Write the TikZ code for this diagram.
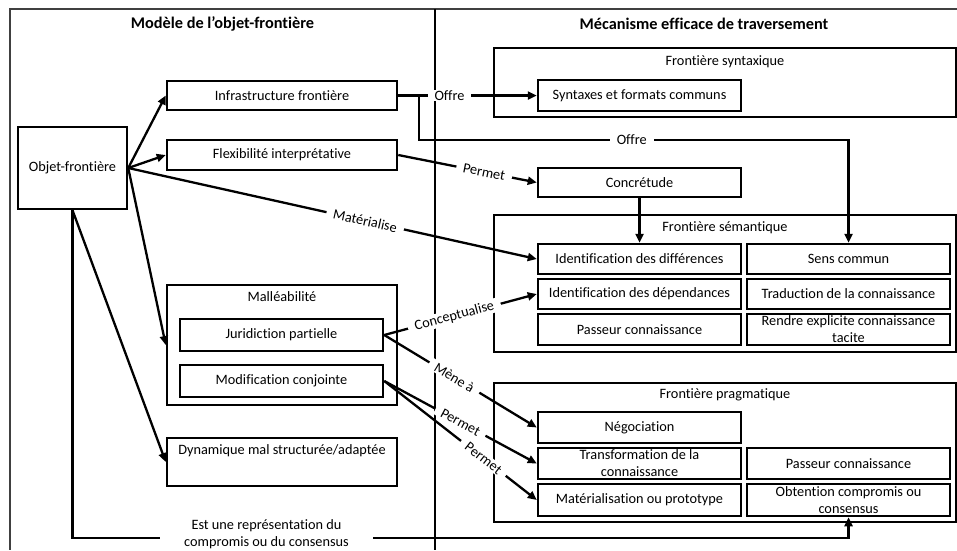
\documentclass[tikz,border=0pt]{standalone}
\usepackage{fontspec}
\setmainfont{Carlito}[Ligatures=NoCommon]
\usetikzlibrary{arrows.meta,calc}
\newcommand\myfnt{\fontsize{14.3}{17}\selectfont}
\newcommand\myttl{\fontsize{16.3}{18}\selectfont\bfseries}
\begin{document}
\begin{tikzpicture}[x=1pt,y=-1pt,
  every node/.style={font=\myfnt},
  box/.style={draw, line width=2.5pt, inner sep=0pt, align=center},
  wbox/.style={box, minimum width=203pt, minimum height=31pt},
  frm/.style={draw, line width=2.5pt, inner sep=0pt},
  arr/.style={line width=2.3pt, -{Triangle[length=9pt,width=8pt]}},
  lbl/.style={fill=white, inner xsep=7pt, inner ysep=1pt},
  slbl/.style={lbl, sloped},
]
\useasboundingbox (0,0) rectangle (957,550);
% outer frame and divider
\draw[black!75, line width=1.3pt] (957,9) -- (10,9) -- (10,550);
\draw[line width=2.5pt] (435,9) -- (435,550);
% titles
\node[font=\myttl] (t1) at (222.5,24) {Modèle de l’objet-frontière};
\node[font=\myttl] (t2) at (704,24) {Mécanisme efficace de traversement};
% left side
\node[box, minimum width=109pt, minimum height=82pt] (obj) at (72.5,168) {Objet-frontière};
\node[box, minimum width=230pt, minimum height=29pt] (inf) at (282,95.5) {Infrastructure frontière};
\node[box, minimum width=230pt, minimum height=30pt] (flex) at (282,155) {Flexibilité interprétative};
\node[box, minimum width=230pt, minimum height=120pt] (mall) at (282,345) {};
\node (malt) at (282,297) {Malléabilité};
\node[box, minimum width=203pt, minimum height=32pt] (jur) at (281.5,335) {Juridiction partielle};
\node[box, minimum width=203pt, minimum height=32pt] (mod) at (281.5,381) {Modification conjointe};
\node[box, minimum width=230pt, minimum height=48pt] (dyn) at (282,462) {};
\node (dynt) at (282,451) {Dynamique mal structurée/adaptée};
% right side frames
\node[frm, minimum width=462pt, minimum height=69pt] (fsyn) at (725,82.5) {};
\node (fsynt) at (725,62) {Frontière syntaxique};
\node[frm, minimum width=462pt, minimum height=137pt] (fsem) at (725,283.5) {};
\node (fsemt) at (725,228) {Frontière sémantique};
\node[frm, minimum width=462pt, minimum height=139pt] (fprag) at (725,452.5) {};
\node (fpragt) at (725,395) {Frontière pragmatique};
% right side boxes
\node[wbox] (synf) at (639.5,95.5) {Syntaxes et formats communs};
\node[wbox, minimum height=29pt] (conc) at (639.5,182.5) {Concrétude};
\node[wbox, minimum height=30pt] (idd) at (639.5,259) {Identification des différences};
\node[wbox, minimum height=30pt] (sens) at (848.5,259) {Sens commun};
\node[wbox, minimum height=30pt] (idp) at (639.5,294) {Identification des dépendances};
\node[wbox, minimum height=30pt] (trad) at (848.5,294) {Traduction de la connaissance};
\node[wbox] (pas1) at (639.5,329.5) {Passeur connaissance};
\node[wbox, label={[align=center]center:Rendre explicite connaissance\\tacite}] (rend) at (848.5,329.5) {};
\node[wbox] (neg) at (639.5,427.5) {Négociation};
\node[wbox, label={[align=center]center:Transformation de la\\connaissance}] (trans) at (639.5,463.5) {};
\node[wbox] (pas2) at (848.5,463.5) {Passeur connaissance};
\node[wbox, minimum height=32pt] (mat) at (639.5,500) {Matérialisation ou prototype};
\node[wbox, minimum height=32pt, label={[align=center]center:Obtention compromis ou\\consensus}] (obt) at (848.5,500) {};
% connectors
\coordinate (bl) at (0,538);
\coordinate (oy) at (0,140);
\coordinate (br) at ($(inf.east)+(21,0)$);
\draw[arr] (obj.east) -- (inf.west);
\draw[arr] (obj.east) -- (flex.west);
\draw[arr] (obj.east) -- node[slbl,pos=0.58]{Matérialise} (idd.west);
\draw[arr] (obj.east) -- (mall.west);
\draw[arr] (obj.south) -- (dyn.west);
\draw[arr] (obj.south) -- (obj.south |- bl) -- node[lbl, pos=0.25, yshift=3.5pt, align=center, inner xsep=24pt]{Est une représentation du\\compromis ou du consensus} (bl -| obt.south) -- (obt.south);
\draw[arr] (inf.east) -- node[lbl,pos=0.37]{Offre} (synf.west);
\draw[arr] (br) -- (br |- oy) -- node[lbl,pos=0.495]{Offre} (oy -| sens.north) -- (sens.north);
\draw[arr] (flex.east) -- node[slbl,pos=0.62]{Permet} (conc.west);
\draw[arr] (conc.south) -- (idd.north);
\draw[arr] (jur.east) -- node[slbl,pos=0.46]{Conceptualise} (idp.west);
\draw[arr] (jur.east) -- node[slbl,pos=0.46]{Mène à} (neg.west);
\draw[arr] (mod.east) -- node[slbl,pos=0.5]{Permet} (trans.west);
\draw[arr] (mod.east) -- node[slbl,pos=0.65]{Permet} (mat.west);
\end{tikzpicture}
\end{document}
